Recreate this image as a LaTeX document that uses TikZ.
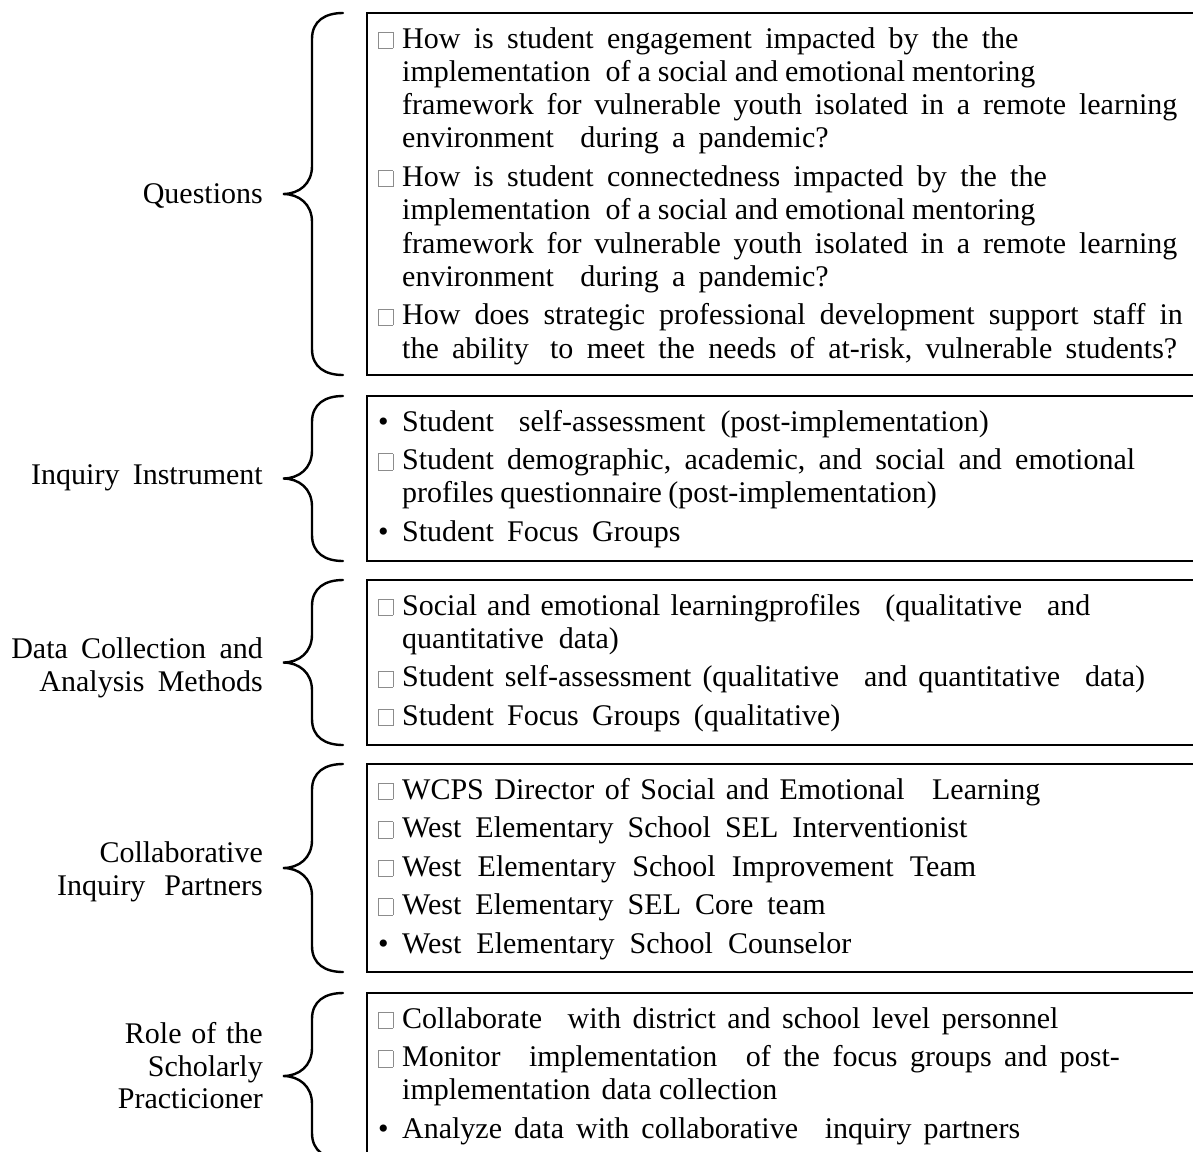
\documentclass[tikz,border=0pt]{standalone}
\usepackage{fontspec}
\setmainfont{Liberation Serif}
\usepackage{xcolor}

% list markers: hollow grey square and solid bullet, both in a 24pt slot
\newcommand\sqm{\makebox[24pt][l]{\textcolor{black!45}{\setlength\fboxrule{0.8pt}\setlength\fboxsep{0pt}\fbox{\rule{0pt}{15.5pt}\rule{13.5pt}{0pt}}}}}
\newcommand\blt{\makebox[24pt][l]{•}}
% extra space between list items
\newcommand\gap{\\[5.2pt]}
% word gap: default for the text, and a per-line override
\newcommand\widewords{\spaceskip=13.3pt plus 2pt minus 1pt\relax}
\newcommand\ws[1]{\spaceskip=#1\relax}
\newcommand\xs[1]{\hspace{#1}}

% curly brace drawn to the left of a panel node
\newcommand\panelbrace[1]{%
  \draw[bracepen] ([xshift=-24pt]#1.north west)
    .. controls ([xshift=-42pt]#1.north west) and ([xshift=-55pt,yshift=-8pt]#1.north west) .. ([xshift=-55pt,yshift=-26pt]#1.north west)
    -- ([xshift=-55pt,yshift=28pt]#1.west)
    .. controls ([xshift=-55pt,yshift=10pt]#1.west) and ([xshift=-68pt]#1.west) .. ([xshift=-84pt]#1.west)
    .. controls ([xshift=-68pt]#1.west) and ([xshift=-55pt,yshift=-10pt]#1.west) .. ([xshift=-55pt,yshift=-28pt]#1.west)
    -- ([xshift=-55pt,yshift=26pt]#1.south west)
    .. controls ([xshift=-55pt,yshift=8pt]#1.south west) and ([xshift=-42pt]#1.south west) .. ([xshift=-24pt]#1.south west);}

\begin{document}
\begin{tikzpicture}[x=1pt,y=-1pt,
  panel/.style={draw, line width=2.6pt, anchor=north west, minimum width=840pt, inner sep=0pt, outer sep=0pt},
  items/.style={anchor=base west, inner sep=0pt, font=\fontsize{30}{33.3}\selectfont\widewords},
  heading/.style={anchor=east, inner sep=0pt, align=right, font=\fontsize{30}{32.5}\selectfont\widewords},
  bracepen/.style={line width=2.4pt, line cap=round}]
\useasboundingbox (0,0) rectangle (1193,1151);
\clip (0,0) rectangle (1193,1151);

% panels
\node[panel, minimum height=362pt] (b1) at (367,13) {};
\node[panel, minimum height=165pt] (b2) at (367,396) {};
\node[panel, minimum height=165pt] (b3) at (367,580) {};
\node[panel, minimum height=208pt] (b4) at (367,764) {};
\node[panel, minimum height=166pt] (b5) at (367,993) {};

% braces
\panelbrace{b1}
\panelbrace{b2}
\panelbrace{b3}
\panelbrace{b4}
\panelbrace{b5}

% headings
\node[heading] (l1) at (263,196) {Questions};
\node[heading] (l2) at (263,478) {Inquiry Instrument};
\node[heading] (l3) at (263,668) {Data Collection and\\Analysis Methods};
\node[heading] (l4) at (263,872) {Collaborative\\{\ws{19pt}Inquiry Partners}};
\node[heading] (l5) at (263,1066) {{\ws{9.8pt}Role of the}\\Scholarly\\Practicioner};

% panel contents
\node[items] (t1) at (378,48) {\begin{tabular}[t]{@{}l@{}l@{}}
\sqm & How is student engagement impacted by the the\\
 & \ws{7pt}implementation\xs{8pt} of a social and emotional mentoring\\
 & \ws{12.75pt}framework for vulnerable youth isolated in a remote learning\\
 & environment\xs{13.3pt} during a pandemic?\gap
\sqm & How is student connectedness impacted by the the\\
 & \ws{7pt}implementation\xs{8pt} of a social and emotional mentoring\\
 & \ws{12.75pt}framework for vulnerable youth isolated in a remote learning\\
 & environment\xs{13.3pt} during a pandemic?\gap
\sqm & \ws{14pt}How does strategic professional development support staff in\\
 & the ability\xs{8pt} to meet the needs of at-risk, vulnerable students?
\end{tabular}};

\node[items] (t2) at (378,431) {\begin{tabular}[t]{@{}l@{}l@{}}
\blt & \ws{15pt}Student\xs{10pt} self-assessment (post-implementation)\gap
\sqm & Student demographic, academic, and social and emotional\\
 & \ws{6.5pt}profiles questionnaire (post-implementation)\gap
\blt & Student Focus Groups
\end{tabular}};

\node[items] (t3) at (378,615) {\begin{tabular}[t]{@{}l@{}l@{}}
\sqm & \ws{10pt}Social and emotional learningprofiles\xs{15pt} (qualitative\xs{15pt} and\\
 & quantitative\xs{15pt}data)\gap
\sqm & \ws{11pt}Student self-assessment (qualitative\xs{14pt} and quantitative\xs{14pt} data)\gap
\sqm & Student Focus Groups (qualitative)
\end{tabular}};

\node[items] (t4) at (378,799) {\begin{tabular}[t]{@{}l@{}l@{}}
\sqm & \ws{10.5pt}WCPS Director of Social and Emotional\xs{17pt} Learning\gap
\sqm & \ws{14pt}West Elementary School SEL Interventionist\gap
\sqm & \ws{16.3pt}West Elementary School Improvement Team\gap
\sqm & \ws{14pt}West Elementary SEL Core team\gap
\blt & \ws{15pt}West Elementary School Counselor
\end{tabular}};

\node[items] (t5) at (378,1028) {\begin{tabular}[t]{@{}l@{}l@{}}
\sqm & \ws{11.5pt}Collaborate\xs{14pt} with district and school level personnel\gap
\sqm & \ws{12.5pt}Monitor\xs{16pt} implementation\xs{16pt} of the focus groups and post-\\
 & \ws{7.5pt}implementation\xs{3.6pt} data collection\gap
\blt & \ws{12pt}Analyze data with collaborative\xs{14.8pt} inquiry partners
\end{tabular}};
\end{tikzpicture}
\end{document}
